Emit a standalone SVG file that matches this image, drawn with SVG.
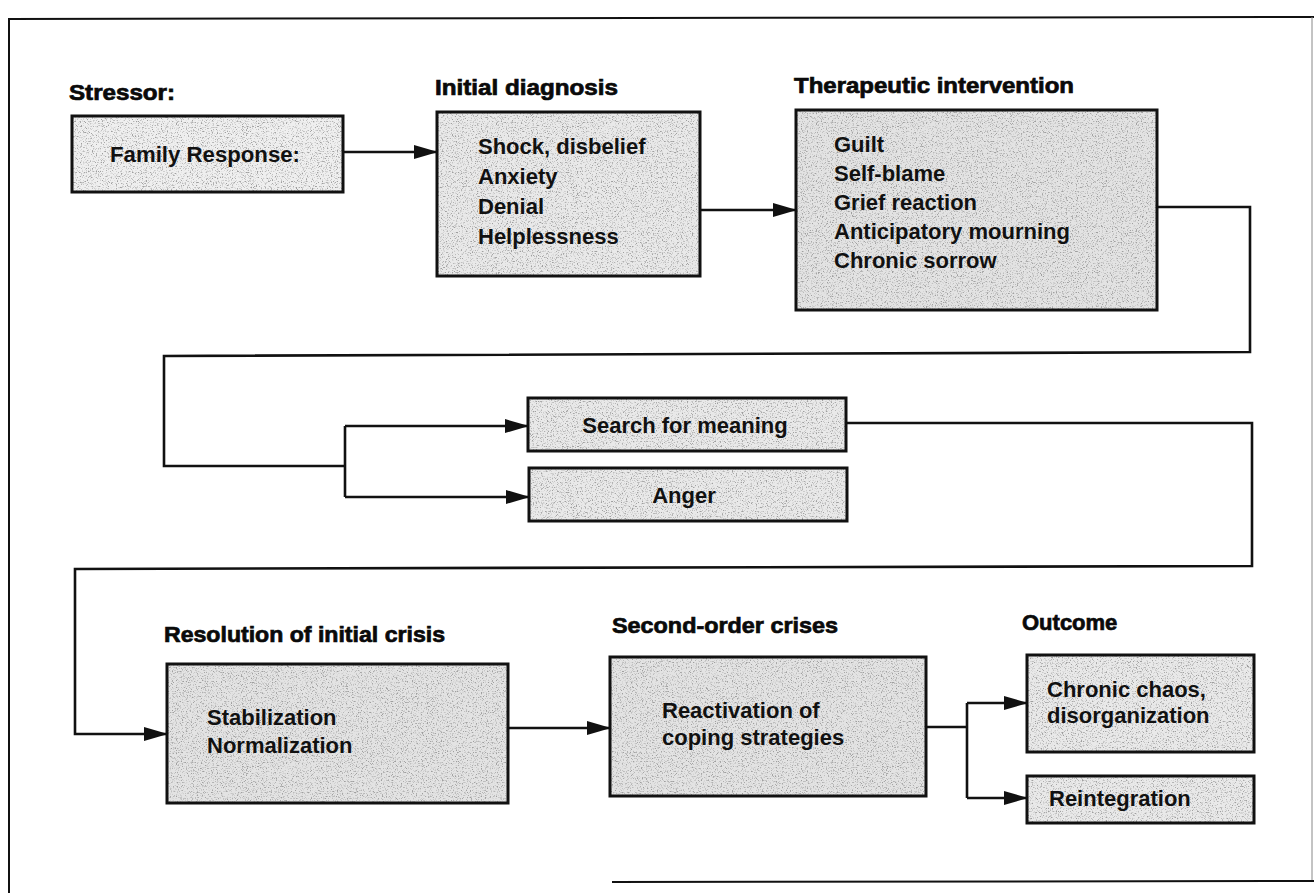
<svg xmlns="http://www.w3.org/2000/svg" width="1314" height="893" viewBox="0 0 1314 893">
<style>
.fillr{stroke:none;filter:url(#stip);}
.light{fill:#efefef;}
.mid{fill:#e9e9e9;}
.dark{fill:#e3e3e3;}
.edge{fill:none;stroke:#111;stroke-width:3;}
.title{font-family:"Liberation Sans",Arial,sans-serif;font-weight:bold;font-size:22px;fill:#0a0a0a;stroke:#0a0a0a;stroke-width:0.7;}
.body{font-family:"Liberation Sans",Arial,sans-serif;font-weight:bold;font-size:22px;fill:#111;}
.conn{fill:none;stroke:#111;stroke-width:2.6;}
.frame{fill:none;stroke:#111;stroke-width:2;}
</style>
<defs>
<marker id="arr" markerWidth="24" markerHeight="14" refX="23" refY="7" orient="auto" markerUnits="userSpaceOnUse">
<path d="M0,0 L24,7 L0,14 Z" fill="#111"/>
</marker>
<filter id="stip" x="0" y="0" width="100%" height="100%">
<feTurbulence type="fractalNoise" baseFrequency="0.8" numOctaves="2" seed="7" result="n"/>
<feColorMatrix in="n" type="matrix" values="0 0 0 0 0.35  0 0 0 0 0.35  0 0 0 0 0.35  4.5 0 0 0 -2.35" result="dots"/>
<feComposite in="dots" in2="SourceGraphic" operator="in" result="cd"/>
<feMerge><feMergeNode in="SourceGraphic"/><feMergeNode in="cd"/></feMerge>
</filter>
</defs>
<rect width="1314" height="893" fill="#fff"/>
<g id="frame">
<path class="frame" d="M9,893 L9,19 L1314,17"/>
<path d="M1312,17 L1312,880" fill="none" stroke="#888" stroke-width="1"/>
<path class="frame" d="M612,882 L1314,881"/>
</g>
<g id="connectors">
<path class="conn" d="M343,152 L437,152" marker-end="url(#arr)"/>
<path class="conn" d="M700,210 L796,210" marker-end="url(#arr)"/>
<path class="conn" d="M1157,207 L1250,207 L1250,352 L164,356 L164,466 L345,466"/>
<path class="conn" d="M345,426 L345,497"/>
<path class="conn" d="M345,426 L528,426" marker-end="url(#arr)"/>
<path class="conn" d="M345,497 L529,497" marker-end="url(#arr)"/>
<path class="conn" d="M846,423 L1252,423 L1252,566 L75,569 L75,734 L167,734" marker-end="url(#arr)"/>
<path class="conn" d="M508,728 L610,728" marker-end="url(#arr)"/>
<path class="conn" d="M926,727 L967,727"/>
<path class="conn" d="M967,703 L967,798"/>
<path class="conn" d="M967,703 L1027,703" marker-end="url(#arr)"/>
<path class="conn" d="M967,798 L1027,798" marker-end="url(#arr)"/>
</g>
<g id="stressor">
<text class="title" x="69" y="100" textLength="106" lengthAdjust="spacingAndGlyphs">Stressor:</text>
<rect class="fillr light" x="72" y="116" width="271" height="76"/>
<rect class="edge" x="72" y="116" width="271" height="76"/>
<text class="body" x="110" y="162" textLength="190" lengthAdjust="spacingAndGlyphs">Family Response:</text>
</g>
<g id="initial-diagnosis">
<text class="title" x="435" y="95" textLength="183" lengthAdjust="spacingAndGlyphs">Initial diagnosis</text>
<rect class="fillr mid" x="437" y="112" width="263" height="164"/>
<rect class="edge" x="437" y="112" width="263" height="164"/>
<text class="body" x="478" y="154">Shock, disbelief</text>
<text class="body" x="478" y="184">Anxiety</text>
<text class="body" x="478" y="214">Denial</text>
<text class="body" x="478" y="244">Helplessness</text>
</g>
<g id="therapeutic-intervention">
<text class="title" x="794" y="93" textLength="280" lengthAdjust="spacingAndGlyphs">Therapeutic intervention</text>
<rect class="fillr dark" x="796" y="110" width="361" height="200"/>
<rect class="edge" x="796" y="110" width="361" height="200"/>
<text class="body" x="834" y="152">Guilt</text>
<text class="body" x="834" y="181">Self-blame</text>
<text class="body" x="834" y="210">Grief reaction</text>
<text class="body" x="834" y="239">Anticipatory mourning</text>
<text class="body" x="834" y="268">Chronic sorrow</text>
</g>
<g id="search-for-meaning">
<rect class="fillr mid" x="528" y="398" width="318" height="53"/>
<rect class="edge" x="528" y="398" width="318" height="53"/>
<text class="body" x="685" y="433" text-anchor="middle">Search for meaning</text>
</g>
<g id="anger">
<rect class="fillr mid" x="529" y="468" width="318" height="53"/>
<rect class="edge" x="529" y="468" width="318" height="53"/>
<text class="body" x="684" y="503" text-anchor="middle">Anger</text>
</g>
<g id="resolution">
<text class="title" x="164" y="642" textLength="281" lengthAdjust="spacingAndGlyphs">Resolution of initial crisis</text>
<rect class="fillr dark" x="167" y="664" width="341" height="139"/>
<rect class="edge" x="167" y="664" width="341" height="139"/>
<text class="body" x="207" y="725">Stabilization</text>
<text class="body" x="207" y="753">Normalization</text>
</g>
<g id="second-order">
<text class="title" x="612" y="633" textLength="226" lengthAdjust="spacingAndGlyphs">Second-order crises</text>
<rect class="fillr dark" x="610" y="657" width="316" height="139"/>
<rect class="edge" x="610" y="657" width="316" height="139"/>
<text class="body" x="662" y="718">Reactivation of</text>
<text class="body" x="662" y="745">coping strategies</text>
</g>
<g id="outcome">
<text class="title" x="1022" y="630">Outcome</text>
</g>
<g id="chronic-chaos">
<rect class="fillr mid" x="1027" y="655" width="227" height="97"/>
<rect class="edge" x="1027" y="655" width="227" height="97"/>
<text class="body" x="1047" y="697">Chronic chaos,</text>
<text class="body" x="1047" y="723">disorganization</text>
</g>
<g id="reintegration">
<rect class="fillr mid" x="1027" y="776" width="227" height="47"/>
<rect class="edge" x="1027" y="776" width="227" height="47"/>
<text class="body" x="1049" y="806">Reintegration</text>
</g>
</svg>
